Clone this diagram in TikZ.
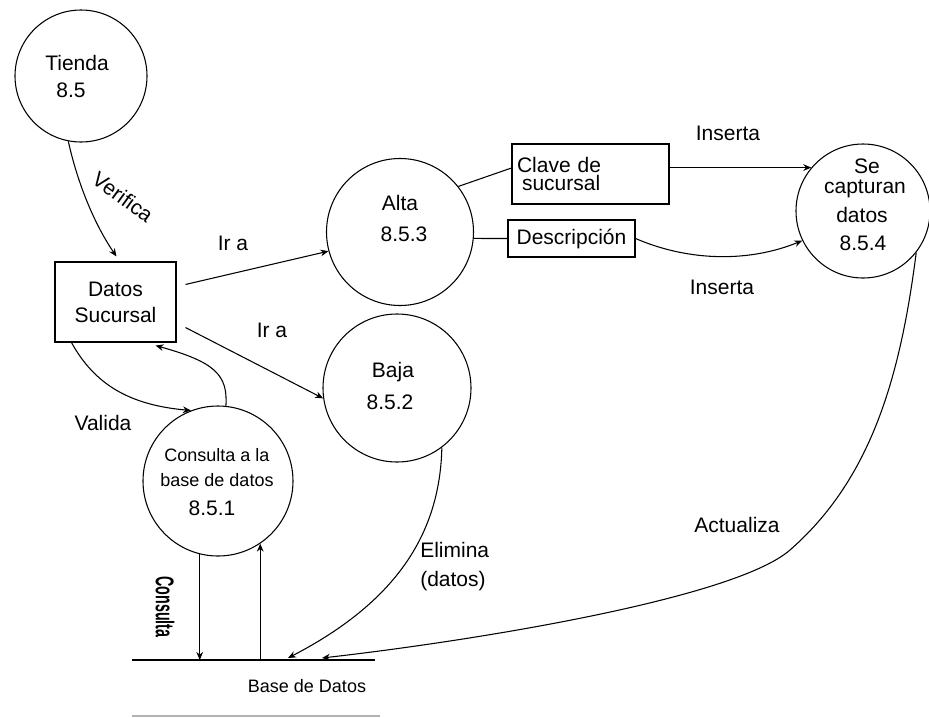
\documentclass[tikz,border=0pt]{standalone}
\usepackage{fontspec}
\setmainfont{Liberation Sans}
\usepackage{graphicx}
\usetikzlibrary{arrows.meta,calc}
\begin{document}
\begin{tikzpicture}[x=0.75pt,y=-0.75pt,
  ln/.style={line width=0.8pt},
  arr/.style={ln,-{Stealth[length=6pt,width=5pt]}},
  proc/.style={draw,ln,circle,inner sep=0pt},
  store/.style={draw,ln,rectangle,inner sep=0pt},
  txt/.style={inner sep=0pt,font=\fontsize{15.75}{19}\selectfont},
  stxt/.style={inner sep=0pt,font=\fontsize{13.5}{18.75}\selectfont}]
\useasboundingbox (0,0) rectangle (929,718);
\fill[white] (0,0) rectangle (929,718);

% processes
\node[proc,minimum size=99pt] (tienda) at (81,76) {};
\node[txt] (tiendaT) at (77,63) {Tienda};
\node[txt] (tiendaN) at (71,90) {8.5};

\node[proc,minimum size=110.25pt] (alta) at (400,232) {};
\node[txt] (altaT) at (400,203) {Alta};
\node[txt] (altaN) at (404,234) {8.5.3};

\node[proc,minimum size=111pt] (baja) at (397,388) {};
\node[txt] (bajaT) at (393,372) {Baja};
\node[txt] (bajaN) at (390,402) {8.5.2};

\node[proc,minimum size=112.5pt] (consul) at (218,481) {};
\node[stxt] (consulT1) at (217,455) {Consulta a la};
\node[stxt] (consulT2) at (217,480) {base de datos};
\node[txt] (consulN) at (212,508) {8.5.1};

\node[proc,minimum size=100.5pt] (secap) at (863,211) {};
\node[txt] (secapT1) at (867,166) {Se};
\node[txt] (secapT2) at (865,189) {capturan};
\node[txt] (secapT3) at (862,215) {datos};
\node[txt] (secapN) at (863,243) {8.5.4};

% boxes
\node[store,txt,minimum width=90.75pt,minimum height=60pt,align=center,
  font=\fontsize{15.75}{19.5}\selectfont] (datos) at (115.5,302) {Datos\\Sucursal};
\node[store,txt,minimum width=117.75pt,minimum height=45pt,text width=110.25pt,align=left,
  font=\fontsize{15.75}{13.5}\selectfont] (clave) at (590.5,174) {Clave de\\\hspace*{3.75pt}sucursal};
\node[store,txt,minimum width=95.25pt,minimum height=27.75pt] (desc) at (571.5,238.5) {Descripción};

% data store
\coordinate (b1) at (132,660);
\coordinate (b2) at (375,660);
\coordinate (g1) at (132,716);
\coordinate (g2) at (380,716);
\draw[line width=1.4pt] (b1) -- (b2);
\draw[gray!60,line width=1.4pt] (g1) -- (g2);
\node[stxt] (bdd) at (307,686) {Base de Datos};

% labels
\node[txt,rotate=-36] (verif) at (123,197) {Verifica};
\node[txt] (ira1) at (233,243) {Ir a};
\node[txt] (ira2) at (272,330) {Ir a};
\node[txt] (ins1) at (728,133) {Inserta};
\node[txt] (ins2) at (722,287) {Inserta};
\node[txt] (valida) at (103,423) {Valida};
\node[txt,align=left,anchor=west,font=\fontsize{15.75}{21.75}\selectfont] (elim) at (420,567) {Elimina\\(datos)};
\node[txt] (act) at (737,525) {Actualiza};
\node[inner sep=0pt] (cons) at (165,607)
  {\rotatebox{-90}{\scalebox{1}[1.8]{\fontsize{10.7}{12}\selectfont\bfseries Consulta}}};

% connectors
\draw[arr] (tienda.259) .. controls (78,185) and (95,225) .. ($(datos.north west)+(62,-5)$);
\draw[arr] ($(datos.north east)+(9,23)$) -- (alta.195);
\draw[arr] ($(datos.south east)+(9,-15)$) -- (baja.188);
\draw[ln] (alta.38) -- ($(clave.west)+(0,-6)$);
\draw[ln] (alta.-5) -- (desc.west);
\draw[arr] (secap.140 -| clave.east) -- (secap.140);
\draw[arr] (desc.east) .. controls (690,262) and (750,262) .. (secap.206);
\draw[arr] (secap.-38) .. controls (900,380) and (870,480) .. (790,550)
  .. controls (735,598) and (480,640) .. ($(b1)+(190,-2)$);
\draw[arr] (baja.-53) .. controls (440,530) and (400,600) .. ($(b1)+(156,-2)$);
\draw[arr] ($(datos.south west)+(17,0)$) .. controls (95,385) and (130,405) .. (consul.111);
\draw[arr] (consul.84) .. controls (228,375) and (215,362) .. ($(datos.south east)+(-21,3)$);
\draw[arr] (consul.256) -- (consul.256 |- b1);
\draw[arr] (consul.-56 |- b1) -- (consul.-56);
\end{tikzpicture}
\end{document}
